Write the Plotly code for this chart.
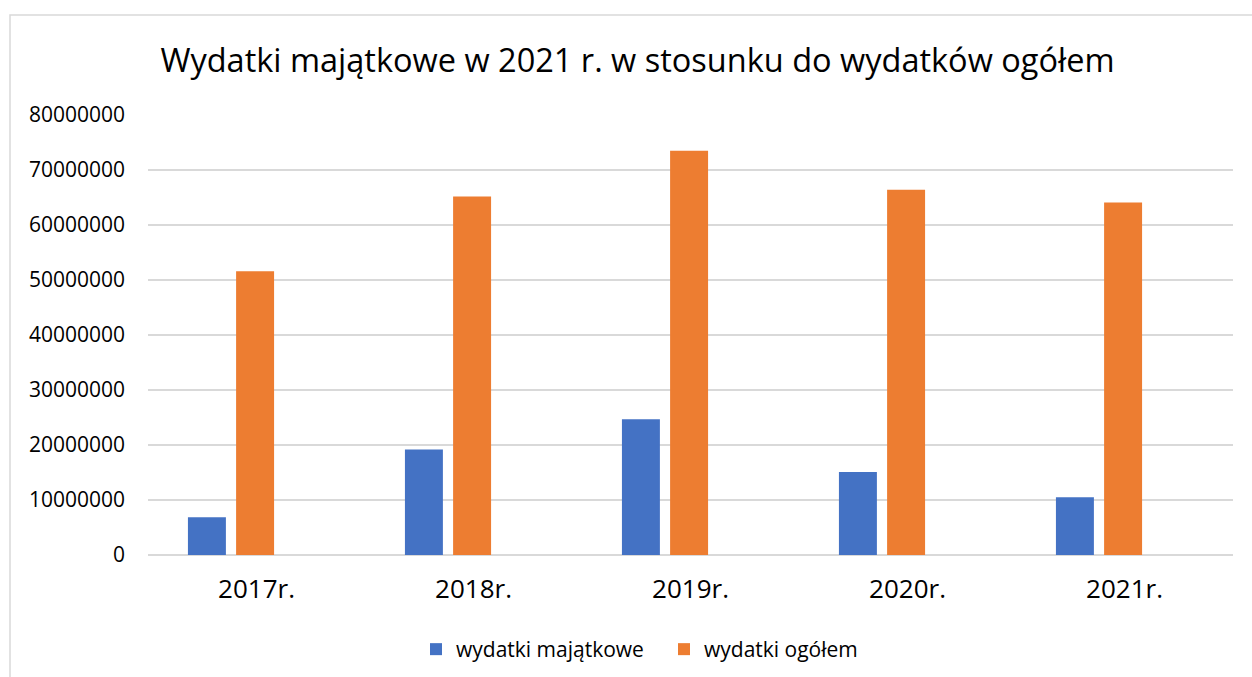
import plotly.graph_objects as go

categories = ["2017r.", "2018r.", "2019r.", "2020r.", "2021r."]
wydatki_majatkowe = [6850000, 19200000, 24700000, 15100000, 10500000]
wydatki_ogolem = [51600000, 65200000, 73500000, 66400000, 64100000]
y_ticks = [0, 10000000, 20000000, 30000000, 40000000, 50000000, 60000000, 70000000, 80000000]

FONT = "Open Sans"
W, H = 1252, 677
L, R, T, B = 148, 19, 115, 122

fig = go.Figure()
fig.add_trace(go.Bar(
    x=categories, y=wydatki_majatkowe, name="wydatki majątkowe",
    marker=dict(color="#4472C4", line=dict(width=0)),
    width=0.175, offset=-0.316,
))
fig.add_trace(go.Bar(
    x=categories, y=wydatki_ogolem, name="wydatki ogółem",
    marker=dict(color="#ED7D31", line=dict(width=0)),
    width=0.175, offset=-0.094,
))

pw = W - L - R
ph = H - T - B
# outer chart border (light gray), extends past the right/bottom edges
fig.add_shape(type="rect", xref="paper", yref="paper",
              x0=(10 - L) / pw, x1=(1262 - L) / pw,
              y0=(H - B - 690) / ph, y1=(H - B - 15) / ph,
              line=dict(color="#d9d9d9", width=1.5), fillcolor="rgba(0,0,0,0)",
              layer="below")

fig.update_layout(
    width=W, height=H,
    margin=dict(l=L, r=R, t=T, b=B),
    paper_bgcolor="white", plot_bgcolor="white",
    font=dict(family=FONT, color="#000000"),
    title=dict(text="Wydatki majątkowe w 2021 r. w stosunku do wydatków ogółem",
               font=dict(family=FONT, size=32.5, color="#000000"),
               x=637.5 / W, xref="container", xanchor="center",
               y=1 - 61 / H, yref="container", yanchor="middle"),
    barmode="overlay",
    showlegend=True,
    legend=dict(orientation="h", x=664 / W, xanchor="center", xref="container",
                y=1 - 649.5 / H, yref="container", yanchor="middle",
                font=dict(family=FONT, size=21, color="#000000"),
                entrywidth=203, entrywidthmode="pixels",
                bgcolor="rgba(0,0,0,0)"),
    xaxis=dict(type="category", showgrid=False, ticks="", showline=False,
               tickfont=dict(family=FONT, size=26, color="#000000"),
               ticklabelstandoff=16, zeroline=False),
    yaxis=dict(range=[0, 80000000], tickvals=y_ticks, tickformat="d",
               showgrid=True, gridcolor="#d9d9d9", gridwidth=1.5,
               zeroline=True, zerolinecolor="#d9d9d9", zerolinewidth=1.5,
               ticks="", showline=False,
               tickfont=dict(family=FONT, size=21, color="#000000"),
               ticklabelstandoff=22),
)

fig.write_html("out.html", config={"displayModeBar": False},
               post_script="document.body.style.margin='0';")
